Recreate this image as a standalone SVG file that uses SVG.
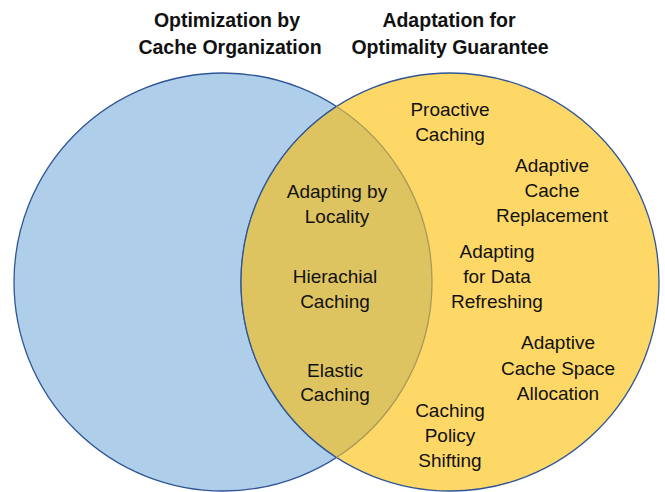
<svg xmlns="http://www.w3.org/2000/svg" width="665" height="492" viewBox="0 0 665 492">
<style>
text{font-family:"Liberation Sans",Arial,sans-serif;font-size:19px;fill:#111;text-anchor:middle}
.title{font-weight:bold;font-size:19.5px}
</style>
<rect width="665" height="492" fill="#fff"/>
<g id="set-cache-organization">
<circle cx="223" cy="282" r="209" fill="#AFCEEA" stroke="#2F5597" stroke-width="1.3"/>
</g>
<g id="set-optimality-guarantee">
<circle cx="450" cy="282" r="209" fill="#FED866" stroke="#2F5597" stroke-width="1.3"/>
</g>
<g id="intersection">
<path d="M336.5,106.5 A209,209 0 0,1 336.5,457.5 A209,209 0 0,1 336.5,106.5 Z" fill="#DEC460"/>
<path d="M336.5,457.5 A209,209 0 0,1 336.5,106.5" fill="none" stroke="#2F5597" stroke-width="1.3"/>
<path d="M336.5,106.5 A209,209 0 0,1 336.5,457.5" fill="none" stroke="#A8995A" stroke-width="1.3"/>
</g>
<g id="title-left"><text class="title" x="227" y="27">Optimization by</text><text class="title" x="230" y="54">Cache Organization</text></g>
<g id="title-right"><text class="title" x="449" y="27">Adaptation for</text><text class="title" x="450" y="54">Optimality Guarantee</text></g>
<g id="adapting-by-locality"><text x="337" y="198">Adapting by</text><text x="337" y="223">Locality</text></g>
<g id="hierachial-caching"><text x="335" y="283">Hierachial</text><text x="335" y="308">Caching</text></g>
<g id="elastic-caching"><text x="335" y="377">Elastic</text><text x="335" y="401">Caching</text></g>
<g id="proactive-caching"><text x="450" y="116">Proactive</text><text x="450" y="141">Caching</text></g>
<g id="adaptive-cache-replacement"><text x="552" y="172">Adaptive</text><text x="552" y="197">Cache</text><text x="552" y="222">Replacement</text></g>
<g id="adapting-data-refreshing"><text x="497" y="258">Adapting</text><text x="497" y="283">for Data</text><text x="497" y="308">Refreshing</text></g>
<g id="adaptive-cache-space"><text x="558" y="349">Adaptive</text><text x="558" y="375">Cache Space</text><text x="558" y="400">Allocation</text></g>
<g id="caching-policy-shifting"><text x="450" y="417">Caching</text><text x="450" y="442">Policy</text><text x="450" y="467">Shifting</text></g>
<g id="connectors"></g>
</svg>
